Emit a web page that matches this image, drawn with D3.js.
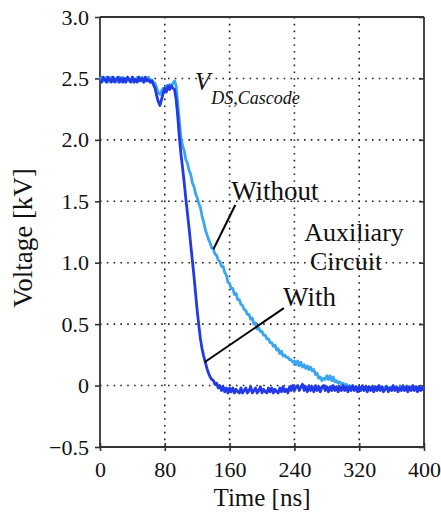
<!DOCTYPE html>
<html><head><meta charset="utf-8">
<script src="https://cdn.jsdelivr.net/npm/d3@7"></script>
<style>
html,body{margin:0;padding:0;background:#fff;}
svg text{font-family:"Liberation Serif","Times New Roman",serif;fill:#111;}
</style></head>
<body><svg id="chart" width="441" height="513"></svg>
<script>
// ---- Data (time in ns, voltage in kV) ----
const xTicks = [0, 80, 160, 240, 320, 400];
const yTicks = [-0.5, 0, 0.5, 1.0, 1.5, 2.0, 2.5, 3.0];
const yTickLabels = ["\u22120.5", "0", "0.5", "1.0", "1.5", "2.0", "2.5", "3.0"];

const withoutAux = [
[0,2.49],[2,2.51],[4,2.48],[6,2.49],[8,2.51],[10,2.47],[12,2.49],[14,2.51],[16,2.48],[18,2.50],
[20,2.49],[22,2.47],[24,2.51],[26,2.49],[28,2.51],[30,2.47],[32,2.49],[34,2.51],[36,2.48],[38,2.49],
[40,2.51],[42,2.47],[44,2.49],[46,2.51],[48,2.48],[50,2.49],[52,2.51],[54,2.47],[56,2.49],[58,2.48],
[60,2.51],[62,2.47],[64,2.49],[66,2.47],[68,2.46],[70,2.42],[72,2.38],[74,2.37],[76,2.40],[78,2.42],
[80,2.40],[82,2.44],[84,2.42],[86,2.45],[88,2.43],[90,2.46],[92,2.48],[94,2.44],[96,2.30],[98,2.15],
[100,2.02],[102,1.95],[104,1.91],[106,1.84],[108,1.81],[110,1.75],[112,1.72],[114,1.65],[116,1.62],[118,1.56],
[120,1.53],[122,1.48],[124,1.45],[126,1.38],[128,1.33],[130,1.27],[132,1.23],[134,1.19],[136,1.16],[138,1.12],
[140,1.11],[142,1.07],[144,1.06],[146,1.02],[148,1.01],[150,0.97],[152,0.97],[154,0.92],[156,0.90],[158,0.84],
[160,0.83],[162,0.79],[164,0.79],[166,0.74],[168,0.75],[170,0.70],[172,0.70],[174,0.66],[176,0.65],[178,0.62],
[180,0.61],[182,0.58],[184,0.58],[186,0.54],[188,0.55],[190,0.50],[192,0.51],[194,0.46],[196,0.47],[198,0.44],
[200,0.44],[202,0.41],[204,0.41],[206,0.38],[208,0.38],[210,0.35],[212,0.35],[214,0.32],[216,0.33],[218,0.29],
[220,0.30],[222,0.26],[224,0.28],[226,0.24],[228,0.25],[230,0.23],[232,0.23],[234,0.21],[236,0.21],[238,0.19],
[240,0.20],[242,0.17],[244,0.20],[246,0.16],[248,0.19],[250,0.15],[252,0.17],[254,0.14],[256,0.16],[258,0.13],
[260,0.15],[262,0.12],[264,0.13],[266,0.09],[268,0.10],[270,0.06],[272,0.07],[274,0.04],[276,0.06],[278,0.05],
[280,0.08],[282,0.05],[284,0.08],[286,0.04],[288,0.07],[290,0.03],[292,0.04],[294,0.02],[296,0.03],[298,0.01],
[300,0.02],[302,0.00],[304,0.01],[306,-0.01],[308,0.00],[310,-0.02],[312,-0.01],[314,-0.02],[316,-0.01],[318,-0.02],
[320,-0.02],[324,-0.01],[328,-0.02],[332,-0.01],[336,-0.02],[340,-0.01],[344,-0.02],[348,-0.02],[352,-0.01],[356,-0.02],
[360,-0.01],[364,-0.02],[368,-0.02],[372,-0.01],[376,-0.02],[380,-0.01],[384,-0.02],[388,-0.02],[392,-0.01],[396,-0.02],[400,-0.02]
];

const withAux = [
[0,2.49],[2,2.47],[4,2.51],[6,2.49],[8,2.47],[10,2.51],[12,2.49],[14,2.47],[16,2.51],[18,2.47],
[20,2.49],[22,2.51],[24,2.47],[26,2.50],[28,2.47],[30,2.50],[32,2.47],[34,2.51],[36,2.49],[38,2.47],
[40,2.51],[42,2.47],[44,2.49],[46,2.47],[48,2.51],[50,2.48],[52,2.50],[54,2.47],[56,2.51],[58,2.48],
[60,2.49],[62,2.47],[64,2.48],[66,2.45],[68,2.42],[70,2.36],[72,2.31],[74,2.28],[76,2.33],[78,2.38],
[80,2.42],[82,2.39],[84,2.44],[86,2.41],[88,2.44],[90,2.42],[92,2.41],[94,2.33],[96,2.19],[98,2.02],
[100,1.88],[102,1.77],[104,1.65],[106,1.52],[108,1.40],[110,1.28],[112,1.15],[114,1.02],[116,0.89],[118,0.75],
[120,0.61],[122,0.49],[124,0.38],[126,0.30],[128,0.24],[130,0.19],[132,0.14],[134,0.10],[136,0.07],[138,0.05],
[140,0.04],[142,0.01],[144,0.02],[146,-0.02],[148,0.00],[150,-0.04],[152,-0.01],[154,-0.05],[156,-0.02],[158,-0.06],
[160,-0.02],[162,-0.05],[164,-0.02],[166,-0.06],[168,-0.03],[170,-0.05],[172,-0.06],[174,-0.02],[176,-0.06],[178,-0.04],
[180,-0.02],[182,-0.06],[184,-0.04],[186,-0.01],[188,-0.06],[190,-0.04],[192,-0.02],[194,-0.06],[196,-0.04],[198,-0.01],
[200,-0.06],[202,-0.03],[204,-0.05],[206,-0.06],[208,-0.02],[210,-0.05],[212,-0.02],[214,-0.06],[216,-0.03],[218,-0.05],
[220,-0.06],[222,-0.02],[224,-0.05],[226,-0.01],[228,-0.05],[230,-0.03],[232,-0.06],[234,-0.01],[236,-0.04],[238,0.00],
[240,-0.04],[242,-0.01],[244,0.00],[246,-0.04],[248,-0.01],[250,0.01],[252,-0.04],[254,-0.01],[256,-0.05],[258,0.00],
[260,-0.04],[262,-0.01],[264,-0.05],[266,0.00],[268,-0.04],[270,-0.01],[272,-0.05],[274,-0.01],[276,0.00],[278,-0.04],
[280,-0.01],[282,-0.05],[284,-0.01],[286,-0.04],[288,0.00],[290,-0.04],[292,-0.01],[294,-0.05],[296,-0.01],[298,-0.04],
[300,0.00],[302,-0.04],[304,-0.01],[306,-0.05],[308,-0.01],[310,-0.04],[312,0.00],[314,-0.04],[316,-0.01],[318,-0.05],
[320,-0.01],[322,-0.04],[324,0.00],[326,-0.04],[328,-0.01],[330,-0.05],[332,-0.01],[334,-0.04],[336,-0.01],[338,-0.05],
[340,-0.01],[342,-0.04],[344,0.00],[346,-0.04],[348,-0.01],[350,-0.05],[352,-0.03],[354,-0.01],[356,-0.05],[358,-0.02],
[360,-0.04],[362,0.00],[364,-0.04],[366,-0.01],[368,-0.05],[370,-0.02],[372,-0.04],[374,0.00],[376,-0.04],[378,-0.01],
[380,-0.05],[382,-0.01],[384,-0.04],[386,0.00],[388,-0.04],[390,-0.01],[392,-0.05],[394,-0.01],[396,-0.04],[398,-0.02],[400,-0.04]
];

// annotation anchors in data units
const labelWithout = {text:"Without", t:162, v:1.51, tipT:140, tipV:1.11, lineT:167, lineV:1.47};
const labelWith = {text:"With", t:226, v:0.65, tipT:129, tipV:0.19, lineT:227, lineV:0.63};

// ---- Layout ----
const svg = d3.select("#chart");
const m = {left:100, right:424, top:17, bottom:447};
const x = d3.scaleLinear().domain([0,400]).range([m.left, m.right]);
const y = d3.scaleLinear().domain([-0.5,3.0]).range([m.bottom, m.top]);

// grid (dotted)
const grid = svg.append("g").attr("stroke","#222").attr("stroke-width",1.6)
  .attr("stroke-dasharray","1.6,5.2").attr("stroke-linecap","butt");
xTicks.slice(1,-1).forEach(t=>grid.append("line").attr("x1",x(t)).attr("x2",x(t)).attr("y1",y(3.0)).attr("y2",y(-0.5)));
yTicks.slice(1,-1).forEach(v=>grid.append("line").attr("x1",x(0)).attr("x2",x(400)).attr("y1",y(v)).attr("y2",y(v)));

// axes
const fmtY = d => yTickLabels[yTicks.indexOf(d)];
const axL = svg.append("g").attr("transform",`translate(${m.left},0)`)
  .call(d3.axisLeft(y).tickValues(yTicks).tickFormat(fmtY).tickSize(5).tickPadding(6));
const axB = svg.append("g").attr("transform",`translate(0,${m.bottom})`)
  .call(d3.axisBottom(x).tickValues(xTicks).tickSize(5).tickPadding(9));
const axR = svg.append("g").attr("transform",`translate(${m.right},0)`)
  .call(d3.axisLeft(y).tickValues(yTicks).tickFormat("").tickSize(5));
axR.selectAll(".tick line").attr("x2",-5);
const axT = svg.append("g").attr("transform",`translate(0,${m.top})`)
  .call(d3.axisBottom(x).tickValues(xTicks).tickFormat("").tickSize(0));
axB.selectAll(".tick line").attr("y1",-4).attr("y2",4);
[axL,axB,axR,axT].forEach(a=>{
  a.select(".domain").attr("stroke","#333").attr("stroke-width",1.8);
  a.selectAll(".tick line").attr("stroke","#333").attr("stroke-width",1.6);
  a.selectAll("text").attr("font-size",22).attr("fill","#111")
    .style("font-family","'Liberation Serif','Times New Roman',serif");
});
axR.select(".domain").attr("d",`M0,${m.top}V${m.bottom}`);
axT.select(".domain").attr("d",`M${m.left},0H${m.right}`);
axL.select(".domain").attr("d",`M0,${m.top}V${m.bottom}`);
axB.select(".domain").attr("d",`M${m.left},0H${m.right}`);

// lines
const line = d3.line().x(d=>x(d[0])).y(d=>y(d[1]));
svg.append("path").datum(withoutAux).attr("fill","none").attr("stroke","#3aa6f2")
  .attr("stroke-width",2.8).attr("stroke-linejoin","round").attr("d",line);
svg.append("path").datum(withAux).attr("fill","none").attr("stroke","#2239e6")
  .attr("stroke-width",2.8).attr("stroke-linejoin","round").attr("d",line);

// annotations
const ann = svg.append("g");
ann.append("line").attr("x1",x(labelWithout.tipT)).attr("y1",y(labelWithout.tipV))
  .attr("x2",x(labelWithout.lineT)).attr("y2",y(labelWithout.lineV)).attr("stroke","#000").attr("stroke-width",2);
ann.append("line").attr("x1",x(labelWith.tipT)).attr("y1",y(labelWith.tipV))
  .attr("x2",x(labelWith.lineT)).attr("y2",y(labelWith.lineV)).attr("stroke","#000").attr("stroke-width",2);
ann.append("text").attr("x",x(labelWithout.t)).attr("y",y(labelWithout.v)).attr("font-size",27).text(labelWithout.text);
ann.append("text").attr("x",x(labelWith.t)).attr("y",y(labelWith.v)).attr("font-size",27).text(labelWith.text);
ann.append("text").attr("x",354).attr("y",241).attr("font-size",26).attr("text-anchor","middle").text("Auxiliary");
ann.append("text").attr("x",346).attr("y",270).attr("font-size",26).attr("text-anchor","middle").text("Circuit");
const vt = ann.append("text").attr("x",195).attr("y",90).attr("font-style","italic");
vt.append("tspan").attr("font-size",25).text("V");
vt.append("tspan").attr("font-size",18).attr("dy",14).attr("dx",1).text("DS,Cascode");

// axis titles
svg.append("text").attr("x",(m.left+m.right)/2).attr("y",506).attr("text-anchor","middle")
  .attr("font-size",25).text("Time [ns]");
svg.append("text").attr("transform",`translate(32,238) rotate(-90)`)
  .attr("text-anchor","middle").attr("font-size",27).text("Voltage [kV]");
</script></body></html>
